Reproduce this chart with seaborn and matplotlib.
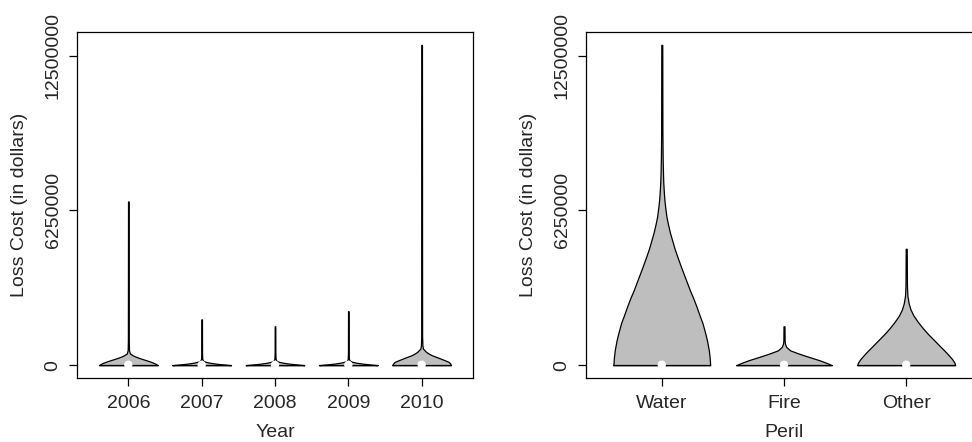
import numpy as np
import pandas as pd
import matplotlib
matplotlib.use("Agg")
import matplotlib.pyplot as plt
import seaborn as sns

# ---------------- data ----------------
years = ["2006", "2007", "2008", "2009", "2010"]
perils = ["Water", "Fire", "Other"]

y_ticks = [0, 6250000, 12500000]
y_tick_labels = ["0", "6250000", "12500000"]

# violin profiles: loss level (dollars) and half-width (relative, max 0.4)
v2006_y = [0, 50e3, 100e3, 150e3, 200e3, 250e3, 300e3, 350e3, 400e3, 470e3, 600e3, 1.0e6, 6.61e6]
v2006_w = [0.40, 0.375, 0.34, 0.295, 0.245, 0.19, 0.14, 0.095, 0.06, 0.022, 0.009, 0.006, 0.004]
v2007_y = [0, 30e3, 60e3, 100e3, 140e3, 180e3, 250e3, 500e3, 1.85e6]
v2007_w = [0.40, 0.30, 0.20, 0.11, 0.05, 0.02, 0.008, 0.005, 0.004]
v2008_y = [0, 30e3, 60e3, 100e3, 140e3, 180e3, 250e3, 500e3, 1.57e6]
v2008_w = [0.40, 0.30, 0.20, 0.11, 0.05, 0.02, 0.008, 0.005, 0.004]
v2009_y = [0, 30e3, 60e3, 100e3, 140e3, 180e3, 250e3, 500e3, 2.18e6]
v2009_w = [0.40, 0.30, 0.20, 0.11, 0.05, 0.02, 0.008, 0.005, 0.004]
v2010_y = [0, 60e3, 130e3, 200e3, 270e3, 340e3, 400e3, 470e3, 540e3, 670e3, 800e3, 1.2e6, 12.93e6]
v2010_w = [0.40, 0.39, 0.37, 0.315, 0.255, 0.195, 0.14, 0.095, 0.06, 0.018, 0.010, 0.006, 0.004]

water_y = [0, 0.3e6, 0.6e6, 1.0e6, 1.3e6, 1.7e6, 2.0e6, 2.35e6, 2.7e6, 3.0e6, 3.35e6, 3.7e6,
           4.0e6, 4.37e6, 4.7e6, 5.04e6, 5.35e6, 5.71e6, 6.0e6, 6.38e6, 6.7e6, 7.06e6, 7.4e6,
           7.73e6, 8.4e6, 9.5e6, 12.93e6]
water_w = [0.396, 0.392, 0.385, 0.37, 0.355, 0.333, 0.31, 0.285, 0.258, 0.232, 0.205, 0.178,
           0.155, 0.128, 0.105, 0.085, 0.067, 0.05, 0.038, 0.028, 0.021, 0.016, 0.012,
           0.010, 0.007, 0.005, 0.004]
fire_y = [0, 70e3, 200e3, 340e3, 470e3, 600e3, 740e3, 870e3, 1.0e6, 1.57e6]
fire_w = [0.39, 0.36, 0.29, 0.20, 0.12, 0.05, 0.018, 0.008, 0.005, 0.004]
other_y = [0, 0.1e6, 0.25e6, 0.5e6, 0.75e6, 1.0e6, 1.25e6, 1.5e6, 1.75e6, 2.0e6, 2.25e6,
           2.5e6, 2.8e6, 3.2e6, 4.70e6]
other_w = [0.40, 0.395, 0.375, 0.33, 0.28, 0.23, 0.18, 0.135, 0.095, 0.06, 0.035,
           0.02, 0.01, 0.006, 0.004]

year_medians = [20e3, 15e3, 15e3, 15e3, 20e3]
peril_medians = [20e3, 15e3, 20e3]

# ---------------- style ----------------
sns.set_theme(style="white")
plt.rcParams["font.family"] = ["Liberation Sans", "DejaVu Sans"]
plt.rcParams["axes.edgecolor"] = "black"
plt.rcParams["axes.linewidth"] = 0.9

FILL = "#bebebe"
FS = 14

fig = plt.figure(figsize=(9.72, 4.42), dpi=100)
ax1 = fig.add_axes([77 / 972, 64 / 442, 396 / 972, 346 / 442])
ax2 = fig.add_axes([586 / 972, 64 / 442, 396 / 972, 346 / 442])


def draw_violins(ax, profiles, medians, labels):
    for i, (ys, ws) in enumerate(profiles):
        pos = i + 1
        ys = np.asarray(ys)
        ws = np.asarray(ws)
        ax.fill_betweenx(ys, pos - ws, pos + ws, facecolor=FILL, edgecolor="black",
                         linewidth=0.9, zorder=2)
        ax.plot([pos - ws[0], pos + ws[0]], [0, 0], color="black", lw=0.9, zorder=3)
    df = pd.DataFrame({"pos": np.arange(1, len(labels) + 1), "median": medians})
    sns.scatterplot(data=df, x="pos", y="median", ax=ax, color="white", s=36,
                    edgecolor="none", zorder=4, legend=False)


draw_violins(ax1, [(v2006_y, v2006_w), (v2007_y, v2007_w), (v2008_y, v2008_w),
                   (v2009_y, v2009_w), (v2010_y, v2010_w)], year_medians, years)
draw_violins(ax2, [(water_y, water_w), (fire_y, fire_w), (other_y, other_w)],
             peril_medians, perils)

for ax, cats, xl, xlim in [(ax1, years, "Year", (0.3, 5.7)),
                           (ax2, perils, "Peril", (0.38, 3.62))]:
    ax.set_xlim(*xlim)
    ax.set_ylim(-0.517e6, 13.45e6)
    ax.set_xticks(range(1, len(cats) + 1))
    ax.set_xticklabels(cats, fontsize=FS)
    ax.set_yticks(y_ticks)
    ax.set_yticklabels(y_tick_labels, fontsize=FS, rotation=90, va="center")
    ax.tick_params(axis="both", which="both", direction="out", length=6, width=0.9,
                   color="black", left=True, bottom=True)
    ax.tick_params(axis="x", pad=6)
    ax.tick_params(axis="y", pad=5)
    ax.set_xlabel(xl, fontsize=FS, labelpad=9)
    ax.set_ylabel("Loss Cost (in dollars)", fontsize=FS, labelpad=12)
    for s in ax.spines.values():
        s.set_visible(True)
        s.set_color("black")
        s.set_linewidth(0.9)
    ax.grid(False)

fig.savefig("out.png", dpi=100)
